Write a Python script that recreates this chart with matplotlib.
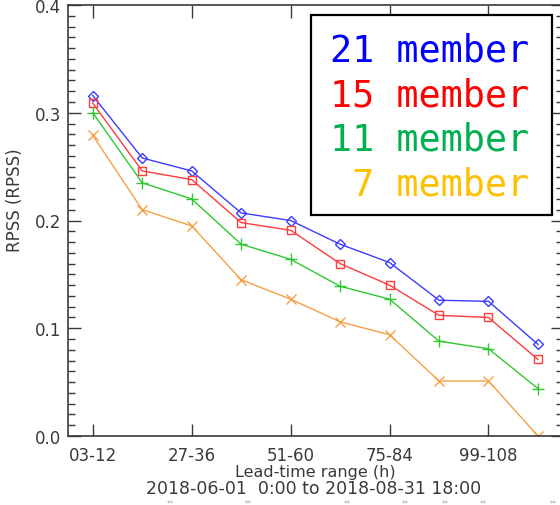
import matplotlib
matplotlib.use("Agg")
import matplotlib.pyplot as plt
from matplotlib.patches import Rectangle
from matplotlib.ticker import MultipleLocator, FixedLocator

# Lead-time ranges (hours) and RPSS per ensemble size
lead_ranges = ["03-12", "15-24", "27-36", "39-48", "51-60",
               "63-72", "75-84", "87-96", "99-108", "111-120"]
rpss_21 = [0.316, 0.258, 0.246, 0.207, 0.200, 0.178, 0.161, 0.126, 0.125, 0.085]
rpss_15 = [0.309, 0.246, 0.238, 0.198, 0.191, 0.160, 0.140, 0.112, 0.110, 0.071]
rpss_11 = [0.300, 0.235, 0.220, 0.178, 0.164, 0.139, 0.127, 0.088, 0.081, 0.044]
rpss_7 = [0.279, 0.210, 0.195, 0.145, 0.127, 0.106, 0.094, 0.051, 0.051, 0.000]
legend_labels = ["21 member", "15 member", "11 member", " 7 member"]
period_text = "2018-06-01  0:00 to 2018-08-31 18:00"

W, H = 560, 506
fig = plt.figure(figsize=(W / 100, H / 100), dpi=100)
fig.patch.set_facecolor("white")

left_px, right_px, top_px, bot_px = 68, 562.7, 6, 437
ax = fig.add_axes([left_px / W, 1 - bot_px / H,
                   (right_px - left_px) / W, (bot_px - top_px) / H])

x = list(range(len(lead_ranges)))
series = [
    (rpss_21, "#3c3cff", "D", 5.5, "none"),
    (rpss_15, "#ff3c3c", "s", 6.0, "none"),
    (rpss_11, "#30c830", "+", 8.0, None),
    (rpss_7, "#f5a046", "x", 7.0, None),
]
for vals, col, mk, ms, mfc in series:
    kw = dict(color=col, lw=1.0, marker=mk, ms=ms, mew=1.0)
    if mfc is not None:
        kw["mfc"] = mfc
    ax.plot(x, vals, **kw)

ax.set_xlim(-0.5, 9.5)
ax.set_ylim(0.0, 0.4)

axis_col = "#3a3a3a"
for s in ax.spines.values():
    s.set_color(axis_col)
    s.set_linewidth(1.2)

ax.xaxis.set_major_locator(FixedLocator(x[::2]))
ax.set_xticklabels(lead_ranges[::2])
ax.yaxis.set_major_locator(MultipleLocator(0.1))
ax.yaxis.set_minor_locator(MultipleLocator(0.01))
ax.yaxis.set_major_formatter(matplotlib.ticker.FormatStrFormatter("%.1f"))

ax.tick_params(axis="x", which="major", direction="in", top=True, bottom=True,
               length=9, width=1.0, color=axis_col, labelcolor=axis_col,
               labelsize=12, pad=7)
ax.tick_params(axis="y", which="major", direction="in", left=True, right=True,
               length=9, width=1.0, color=axis_col, labelcolor=axis_col,
               labelsize=12, pad=5)
ax.tick_params(axis="y", which="minor", direction="in", left=True, right=True,
               length=5, width=1.0, color=axis_col)

fig.text(15 / W, 1 - 200 / H, "RPSS (RPSS)", rotation=90, ha="center",
         va="center", fontsize=12, color=axis_col)
fig.text(315 / W, 1 - 473 / H, "Lead-time range (h)", ha="center",
         va="center", fontsize=11.5, color=axis_col)
fig.text(314 / W, 1 - 489 / H, period_text, ha="center", va="center",
         fontsize=12.5, color=axis_col)

# Legend box with coloured monospace labels
bx0, by0, bx1, by1 = 311, 16, 552, 216
fig.patches.append(Rectangle((bx0 / W, 1 - by1 / H), (bx1 - bx0) / W,
                             (by1 - by0) / H, transform=fig.transFigure,
                             fill=True, facecolor="white", edgecolor="black",
                             lw=1.6, zorder=5))
legend_cols = ["#0000ff", "#ff0000", "#00b050", "#ffc000"]
baselines = [61.5, 106.5, 150.5, 195]
for lab, col, yb in zip(legend_labels, legend_cols, baselines):
    fig.text(529 / W, 1 - yb / H, lab, ha="right", va="baseline",
             family="DejaVu Sans Mono", fontsize=26.5, color=col, zorder=6)

# Small marks along the bottom edge
for gx in [170, 248, 347, 405, 445, 483, 553]:
    fig.text(gx / W, 1 - 502.5 / H, "\u21d4", ha="center", va="center",
             fontsize=5, color="#b8a890")

fig.savefig("out.png", dpi=100, facecolor="white")
